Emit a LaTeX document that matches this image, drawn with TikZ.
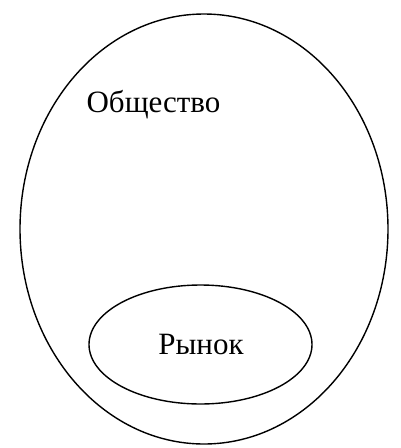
\documentclass[tikz,border=0pt]{standalone}
\usepackage{fontspec}
\setmainfont{Liberation Serif}
\usetikzlibrary{shapes.geometric}
\begin{document}
\begin{tikzpicture}[x=1pt,y=-1pt,
  oval/.style={draw=black,line width=1.4pt,ellipse,inner sep=0pt},
  lbl/.style={inner sep=0pt,font=\fontsize{31}{36}\selectfont}]
\useasboundingbox (0,0) rectangle (400,448);
\node[oval,minimum width=368pt,minimum height=430pt] (soc) at (204,229) {};
\node[oval,minimum width=223pt,minimum height=119pt] (mkt) at (200.5,344.5) {};
\node[lbl,anchor=base] (tsoc) at (153.5,112) {Общество};
\node[lbl,anchor=base] (tmkt) at (201,354) {Рынок};
\end{tikzpicture}
\end{document}
